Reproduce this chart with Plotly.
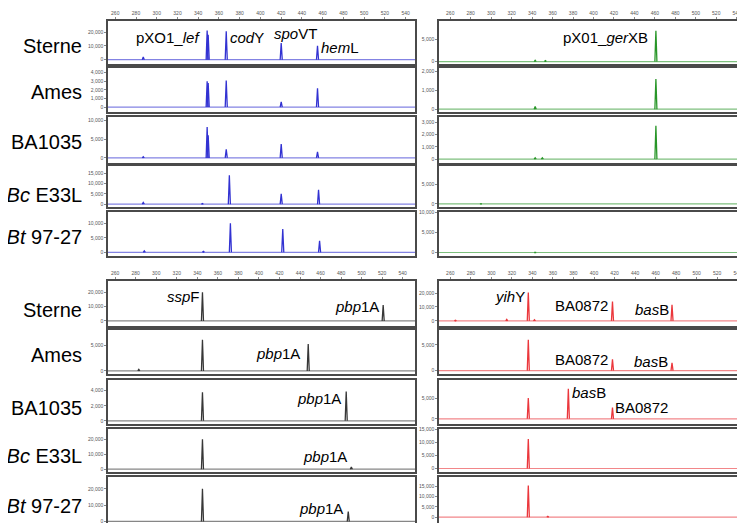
import plotly.graph_objects as go

W, H = 745, 523

strains = ["Sterne", "Ames", "BA1035", "\u00a0<i>Bc</i> E33L", "\u00a0<i>Bt</i> 97-27"]
x_ticks = list(range(260, 541, 20))

# Peaks per panel/row: (size in bp, height in RFU)
blue_peaks = [
    [(287, 2000), (348.6, 21000), (349.6, 18000), (367, 20500), (420, 12000), (455, 10000)],
    [(348.6, 3000), (349.6, 2800), (367, 3100), (420, 600), (455, 2200)],
    [(287, 300), (348.6, 8200), (349.6, 6000), (367, 2300), (420, 3700), (455, 1600)],
    [(287, 800), (344, 300), (370, 14000), (420, 5000), (456, 7000)],
    [(288, 500), (345, 300), (371, 10000), (421.5, 8000), (457, 4000)],
]
green_peaks = [
    [(343, 300), (353, 200), (461, 6800)],
    [(343, 150), (461, 1600)],
    [(343, 100), (350, 100), (461, 2700)],
    [(290, 100)],
    [(343, 80)],
]
black_peaks = [
    [(345, 20000), (521, 11000)],
    [(283, 300), (345, 6000), (448, 5200)],
    [(345, 3800), (485, 3900)],
    [(345, 20000), (490, 1500)],
    [(345, 20000), (487, 6000)],
]
red_peaks = [
    [(265, 500), (315, 1000), (336, 20500), (342, 800), (418, 14000), (476, 11500)],
    [(336, 6000), (418, 2200), (476, 1500)],
    [(336, 5000), (375, 7200), (418, 2700)],
    [(336, 11300)],
    [(336, 15300), (355, 400)],
]

# y ranges and tick values per panel/row
blue_yr = [(-2800, 28000), (-600, 4600), (-1300, 10800), (-1600, 18600), (-1300, 13700)]
blue_yt = [[0, 10000, 20000], [0, 1000, 2000, 3000, 4000], [0, 5000, 10000], [0, 5000, 10000, 15000], [0, 5000, 10000]]
green_yr = [(-440, 9000), (-160, 2200), (-300, 3400), (-900, 9600), (-900, 10000)]
green_yt = [[0, 5000], [0, 1000, 2000], [0, 1000, 2000, 3000], [0, 5000], [0, 5000, 10000]]
black_yr = [(-3200, 27800), (-630, 8000), (-400, 5400), (-2200, 27000), (-2800, 27000)]
black_yt = [[0, 10000, 20000], [0, 5000], [0, 2000, 4000], [0, 10000, 20000], [0, 10000, 20000]]
red_yr = [(-3400, 28800), (-700, 8000), (-1200, 9300), (-1500, 15200), (-4300, 19300)]
red_yt = [[0, 10000, 20000], [0, 5000], [0, 5000], [0, 5000, 10000, 15000], [0, 5000, 10000, 15000]]

panels = [
    dict(peaks=blue_peaks, yr=blue_yr, yt=blue_yt, color="rgb(50,50,210)", xr=(253, 549),
         col=(100, 407), rows=[(10, 53), (57, 102), (107, 153), (156, 198), (203, 247)]),
    dict(peaks=green_peaks, yr=green_yr, yt=green_yt, color="rgb(40,150,40)", xr=(249, 552),
         col=(431, 741), rows=[(10, 53), (57, 102), (107, 153), (156, 198), (203, 247)]),
    dict(peaks=black_peaks, yr=black_yr, yt=black_yt, color="rgb(55,55,55)", xr=(253, 552),
         col=(100, 407), rows=[(272, 317), (321, 366), (372, 416), (421, 465), (470, 519)]),
    dict(peaks=red_peaks, yr=red_yr, yt=red_yt, color="rgb(235,55,60)", xr=(249, 551),
         col=(431, 741), rows=[(272, 317), (321, 366), (372, 416), (421, 465), (470, 519)]),
]

FONT = "Liberation Sans, Arial, sans-serif"
fig = go.Figure()
layout = {}
idx = 0
hw = 1.0  # peak half-width in bp
for p in panels:
    for r in range(5):
        idx += 1
        xa = "x" if idx == 1 else f"x{idx}"
        ya = "y" if idx == 1 else f"y{idx}"
        x0, x1 = p["xr"]
        fig.add_trace(go.Scatter(x=[x0, x1], y=[0, 0], mode="lines", xaxis=xa, yaxis=ya,
                                 line=dict(color=p["color"], width=1.2), opacity=0.6,
                                 hoverinfo="skip", showlegend=False))
        for pos, h in p["peaks"][r]:
            fig.add_trace(go.Scatter(x=[pos - hw, pos, pos + hw], y=[0, h, 0], mode="lines",
                                     xaxis=xa, yaxis=ya, line=dict(color=p["color"], width=1.3),
                                     hoverinfo="skip", showlegend=False))
        top, bot = p["rows"][r]
        c0, c1 = p["col"]
        xkey = "xaxis" if idx == 1 else f"xaxis{idx}"
        ykey = "yaxis" if idx == 1 else f"yaxis{idx}"
        layout[xkey] = dict(domain=[c0 / W, c1 / W], range=list(p["xr"]), anchor=ya,
                            showgrid=False, zeroline=False, showline=True, mirror=True,
                            linecolor="#4a4a4a", linewidth=1.5,
                            side="top", tickvals=x_ticks, ticktext=[str(v) for v in x_ticks],
                            showticklabels=(r == 0), ticks="outside" if r == 0 else "",
                            ticklen=2, tickcolor="#888",
                            tickfont=dict(size=5, color="#555", family=FONT))
        layout[ykey] = dict(domain=[1 - bot / H, 1 - top / H], range=list(p["yr"][r]), anchor=xa,
                            showgrid=False, zeroline=False, showline=True, mirror=True,
                            linecolor="#4a4a4a", linewidth=1.5,
                            tickvals=p["yt"][r], ticktext=[f"{v:,}" for v in p["yt"][r]],
                            ticks="outside", ticklen=2, tickcolor="#888",
                            tickfont=dict(size=5, color="#555", family=FONT))

annotations = []
label_y_top = [35, 82, 132, 185, 228]
label_y_bot = [301, 347, 400, 448, 499]
for ys in (label_y_top, label_y_bot):
    for s, yv in zip(strains, ys):
        annotations.append(dict(text=s, x=76 / W, y=1 - yv / H, xref="paper", yref="paper",
                                xanchor="right", yanchor="middle", showarrow=False,
                                font=dict(size=20, color="black", family=FONT)))

gene_labels = [
    ("pXO1_<i>lef</i>", 126, 27), ("<i>cod</i>Y", 220, 27), ("<i>spo</i>VT", 264, 23),
    ("<i>hem</i>L", 311, 37), ("pX01_<i>ger</i>XB", 553, 27),
    ("<i>ssp</i>F", 157, 288), ("<i>pbp</i>1A", 325, 298), ("<i>pbp</i>1A", 246, 345),
    ("<i>pbp</i>1A", 287, 390), ("<i>pbp</i>1A", 293, 449), ("<i>pbp</i>1A", 289, 501),
    ("<i>yih</i>Y", 485, 288), ("BA0872", 545, 297), ("<i>bas</i>B", 625, 301),
    ("BA0872", 545, 351), ("<i>bas</i>B", 624, 353),
    ("<i>bas</i>B", 562, 384), ("BA0872", 605, 400),
]
for t, xl, yc in gene_labels:
    annotations.append(dict(text=t, x=xl / W, y=1 - yc / H, xref="paper", yref="paper",
                            xanchor="left", yanchor="middle", showarrow=False,
                            font=dict(size=15, color="black", family=FONT)))

fig.update_layout(width=W, height=H, margin=dict(l=0, r=0, t=0, b=0),
                  paper_bgcolor="white", plot_bgcolor="white",
                  annotations=annotations, **layout)
fig.write_html("out.html")
